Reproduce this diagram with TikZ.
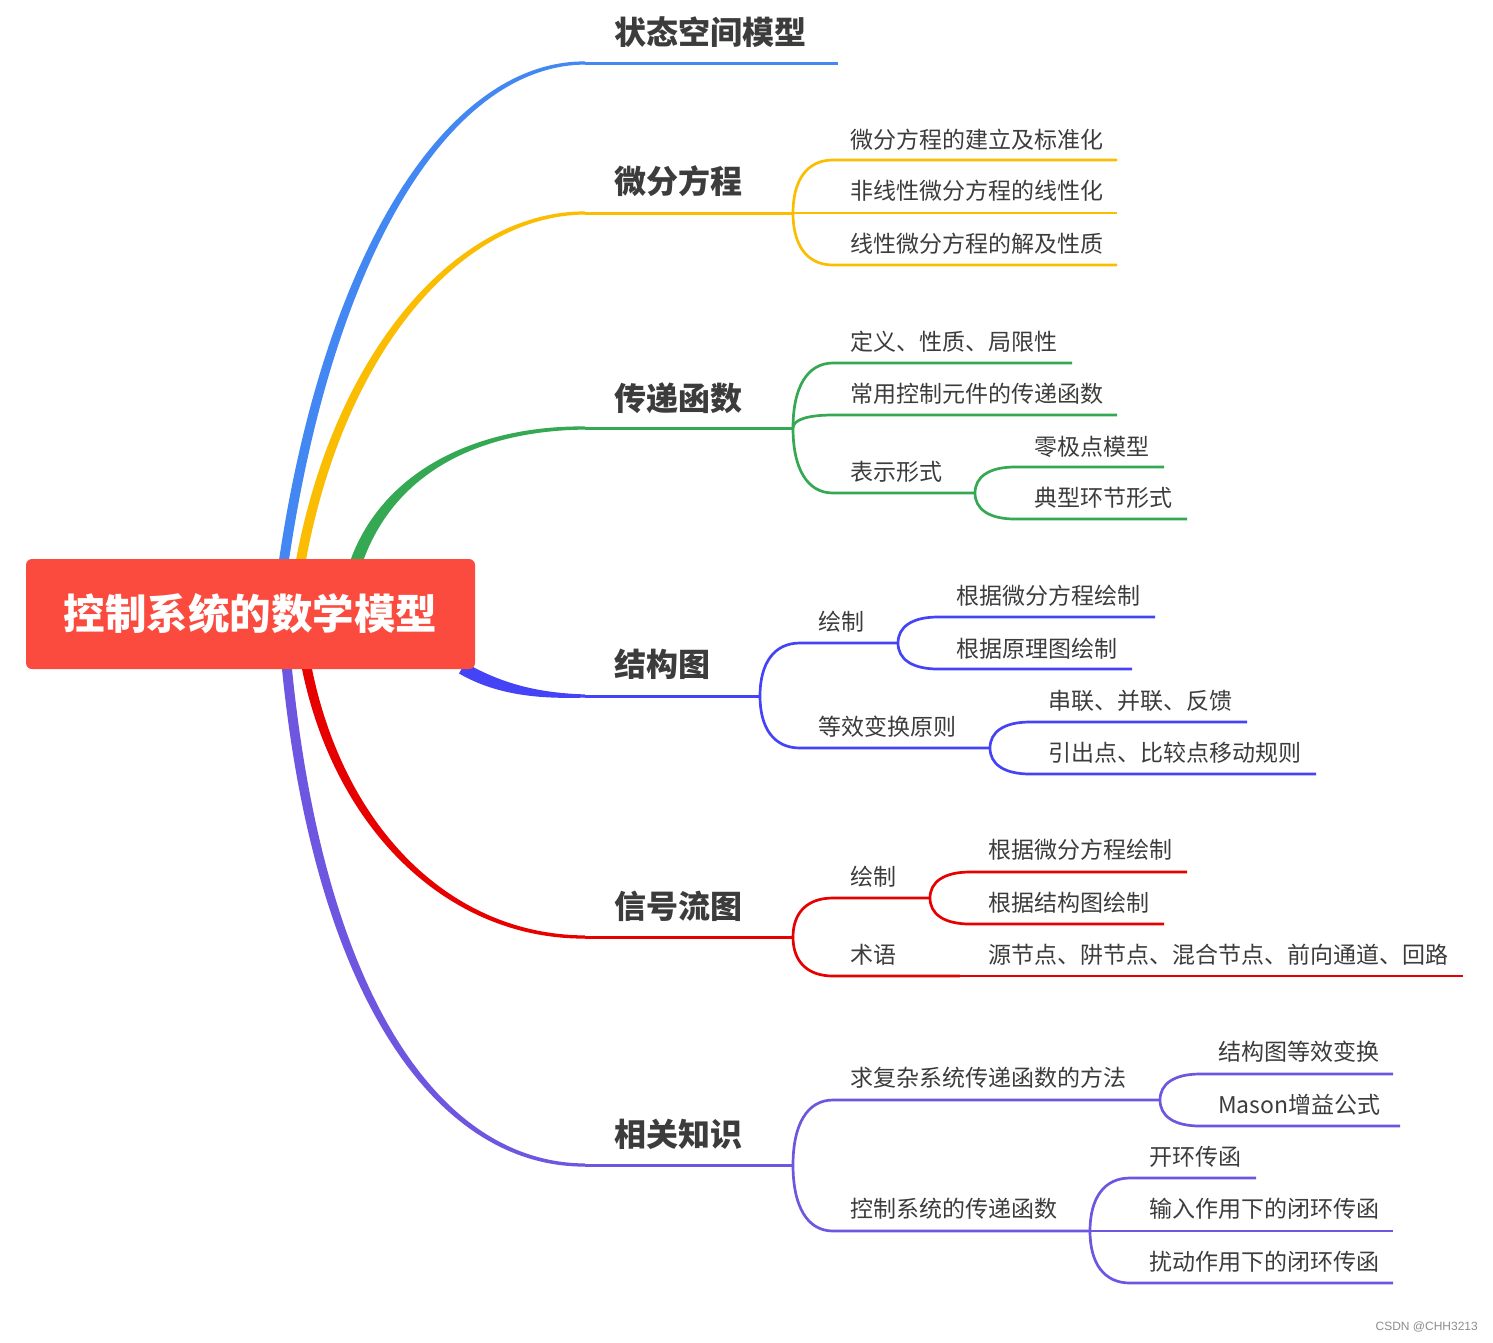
\documentclass[tikz,border=0pt]{standalone}
\usepackage{fontspec}
\newfontfamily\cjk{Noto Sans CJK SC}
\newfontfamily\wmfont{Liberation Sans}
\usetikzlibrary{calc}
\definecolor{cA}{HTML}{4287F2}
\definecolor{cB}{HTML}{FBBD02}
\definecolor{cC}{HTML}{34A853}
\definecolor{cD}{HTML}{4444F6}
\definecolor{cE}{HTML}{E60000}
\definecolor{cF}{HTML}{6E56E0}
\definecolor{rootc}{HTML}{FA4B3E}
\definecolor{txt}{HTML}{3C3C3C}
% tapered main branch: color, start, ctrl1, ctrl2, end, start half-width vec, end half-width vec, ctrl2 offset vec
\newcommand\mbranch[8]{%
  \fill[#1] ($(#2)-(#6)$) .. controls ($#3-(#6)$) and ($#4-(#8)$) .. ($(#5)-(#7)$)
    -- ($(#5)+(#7)$) .. controls ($#4+(#8)$) and ($#3+(#6)$) .. ($(#2)+(#6)$) -- cycle;}
% bracket connector: color, parent coord, child start coord, child end coord
\newcommand\bk[4]{%
  \draw[#1,sl] (#2) .. controls ($(#2)!0.62!(#2|-#3)$) and ($(#3)+(-26,0)$) .. (#3) -- (#4);}
\begin{document}
\begin{tikzpicture}[x=1pt,y=-1pt,
  main/.style={font=\cjk\bfseries\fontsize{32}{36}\selectfont, text=txt, anchor=west, inner sep=0pt},
  sub/.style={font=\cjk\fontsize{23}{26}\selectfont, text=txt, anchor=west, inner sep=0pt},
  ln/.style={line width=3pt},
  sl/.style={line width=2.7pt},
]
\useasboundingbox (0,0) rectangle (1493,1342);

% ---- main branches (tapered) ----
\coordinate (s1) at (284,560); \coordinate (e1) at (585,63);
\coordinate (s2) at (301,560); \coordinate (e2) at (585,213);
\coordinate (s3) at (357,560); \coordinate (e3) at (585,428);
\coordinate (s4) at (462,668); \coordinate (e4) at (585,696);
\coordinate (s5) at (307,669); \coordinate (e5) at (585,937);
\coordinate (s6) at (287,669); \coordinate (e6) at (585,1165);

\mbranch{cA}{s1}{(330,250)}{(450,63)}{e1}{5,0}{0,1.6}{2.2,2.2}
\mbranch{cB}{s2}{(340,350)}{(460,213)}{e2}{5,0}{0,1.6}{2.2,2.2}
\mbranch{cC}{s3}{(390,470)}{(480,428)}{e3}{6.5,0}{0,1.6}{2.5,2.5}
\mbranch{cD}{s4}{(500,690)}{(540,696)}{e4}{-3,5.5}{0,1.6}{0,3}
\mbranch{cE}{s5}{(340,830)}{(450,937)}{e5}{5,0}{0,-1.6}{2.2,-2.2}
\mbranch{cF}{s6}{(320,1000)}{(440,1165)}{e6}{5,0}{0,-1.6}{2.2,-2.2}

% ---- root ----
\node[fill=rootc, rounded corners=6pt, minimum width=449pt, minimum height=110pt,
      text=white, font=\cjk\bfseries\fontsize{41.5}{48}\selectfont] (root) at (250.5,614) {控制系统的数学模型};

% ---- main labels and lines ----
\coordinate (p1) at (838,63);
\coordinate (p2) at (793,213);
\coordinate (p3) at (793,428);
\coordinate (p4) at (760,696);
\coordinate (p5) at (793,937);
\coordinate (p6) at (793,1165);
\draw[cA,ln] (e1) -- (p1);
\draw[cB,ln] (e2) -- (p2);
\draw[cC,ln] (e3) -- (p3);
\draw[cD,ln] (e4) -- (p4);
\draw[cE,ln] (e5) -- (p5);
\draw[cF,ln] (e6) -- (p6);
\node[main] (m1) at (614,32) {状态空间模型};
\node[main] (m2) at (614,181) {微分方程};
\node[main] (m3) at (614,398) {传递函数};
\node[main] (m4) at (614,664) {结构图};
\node[main] (m5) at (614,906) {信号流图};
\node[main] (m6) at (614,1134) {相关知识};

% ---- 微分方程 ----
\coordinate (c21) at (833,160); \coordinate (d21) at (1117,160);
\coordinate (c22) at (833,213); \coordinate (d22) at (1117,213);
\coordinate (c23) at (833,265); \coordinate (d23) at (1117,265);
\bk{cB}{p2}{c21}{d21}
\bk{cB}{p2}{c22}{d22}
\bk{cB}{p2}{c23}{d23}
\node[sub] (t21) at (850,140) {微分方程的建立及标准化};
\node[sub] (t22) at (850,191) {非线性微分方程的线性化};
\node[sub] (t23) at (850,244) {线性微分方程的解及性质};

% ---- 传递函数 ----
\coordinate (c31) at (833,363); \coordinate (d31) at (1072,363);
\coordinate (c32) at (833,415); \coordinate (d32) at (1117,415);
\coordinate (c33) at (833,493); \coordinate (d33) at (975,493);
\coordinate (c331) at (1015,467); \coordinate (d331) at (1164,467);
\coordinate (c332) at (1015,519); \coordinate (d332) at (1187,519);
\bk{cC}{p3}{c31}{d31}
\bk{cC}{p3}{c32}{d32}
\bk{cC}{p3}{c33}{d33}
\bk{cC}{d33}{c331}{d331}
\bk{cC}{d33}{c332}{d332}
\node[sub] (t31) at (850,342) {定义、性质、局限性};
\node[sub] (t32) at (850,394) {常用控制元件的传递函数};
\node[sub] (t33) at (850,472) {表示形式};
\node[sub] (t331) at (1034,447) {零极点模型};
\node[sub] (t332) at (1034,498) {典型环节形式};

% ---- 结构图 ----
\coordinate (c41) at (800,643); \coordinate (d41) at (898,643);
\coordinate (c42) at (800,748); \coordinate (d42) at (990,748);
\coordinate (c411) at (938,617); \coordinate (d411) at (1155,617);
\coordinate (c412) at (938,669); \coordinate (d412) at (1132,669);
\coordinate (c421) at (1030,722); \coordinate (d421) at (1247,722);
\coordinate (c422) at (1030,774); \coordinate (d422) at (1316,774);
\bk{cD}{p4}{c41}{d41}
\bk{cD}{p4}{c42}{d42}
\bk{cD}{d41}{c411}{d411}
\bk{cD}{d41}{c412}{d412}
\bk{cD}{d42}{c421}{d421}
\bk{cD}{d42}{c422}{d422}
\node[sub] (t41) at (818,622) {绘制};
\node[sub] (t42) at (818,727) {等效变换原则};
\node[sub] (t411) at (956,596) {根据微分方程绘制};
\node[sub] (t412) at (956,649) {根据原理图绘制};
\node[sub] (t421) at (1048,701) {串联、并联、反馈};
\node[sub] (t422) at (1048,753) {引出点、比较点移动规则};

% ---- 信号流图 ----
\coordinate (c51) at (833,898); \coordinate (d51) at (930,898);
\coordinate (c52) at (833,976); \coordinate (d52) at (960,976);
\coordinate (c511) at (970,872); \coordinate (d511) at (1187,872);
\coordinate (c512) at (970,924); \coordinate (d512) at (1164,924);
\coordinate (d521) at (1463,976);
\bk{cE}{p5}{c51}{d51}
\bk{cE}{p5}{c52}{d52}
\bk{cE}{d51}{c511}{d511}
\bk{cE}{d51}{c512}{d512}
\draw[cE,sl] (d52) -- (d521);
\node[sub] (t51) at (850,877) {绘制};
\node[sub] (t52) at (850,955) {术语};
\node[sub] (t511) at (988,850) {根据微分方程绘制};
\node[sub] (t512) at (988,903) {根据结构图绘制};
\node[sub] (t521) at (988,955) {源节点、阱节点、混合节点、前向通道、回路};

% ---- 相关知识 ----
\coordinate (c61) at (833,1100); \coordinate (d61) at (1160,1100);
\coordinate (c62) at (833,1231); \coordinate (d62) at (1090,1231);
\coordinate (c611) at (1200,1074); \coordinate (d611) at (1393,1074);
\coordinate (c612) at (1200,1126); \coordinate (d612) at (1400,1126);
\coordinate (c621) at (1130,1178); \coordinate (d621) at (1256,1178);
\coordinate (c622) at (1130,1231); \coordinate (d622) at (1393,1231);
\coordinate (c623) at (1130,1283); \coordinate (d623) at (1393,1283);
\bk{cF}{p6}{c61}{d61}
\bk{cF}{p6}{c62}{d62}
\bk{cF}{d61}{c611}{d611}
\bk{cF}{d61}{c612}{d612}
\bk{cF}{d62}{c621}{d621}
\bk{cF}{d62}{c622}{d622}
\bk{cF}{d62}{c623}{d623}
\node[sub] (t61) at (850,1078) {求复杂系统传递函数的方法};
\node[sub] (t62) at (850,1209) {控制系统的传递函数};
\node[sub] (t611) at (1218,1052) {结构图等效变换};
\node[sub] (t612) at (1218,1105) {Mason增益公式};
\node[sub] (t621) at (1149,1157) {开环传函};
\node[sub] (t622) at (1149,1209) {输入作用下的闭环传函};
\node[sub] (t623) at (1149,1262) {扰动作用下的闭环传函};

% ---- watermark ----
\node[font=\wmfont\fontsize{12}{14}\selectfont, text=black!45, anchor=east, inner sep=0pt] (wm) at (1478,1327) {CSDN @CHH3213};
\end{tikzpicture}
\end{document}
